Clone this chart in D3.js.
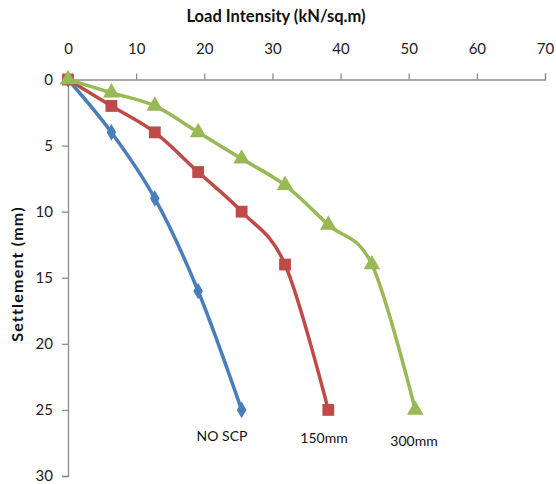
<!DOCTYPE html>
<html><head><meta charset="utf-8">
<script src="https://cdn.jsdelivr.net/npm/d3@7"></script>
<style>body{margin:0;background:#fff}svg{display:block}text{font-family:Lato,"Open Sans",sans-serif}</style>
</head><body>
<svg id="c" width="556" height="484"></svg>
<script>
const xTicks = [0,10,20,30,40,50,60,70];
const yTicks = [0,5,10,15,20,25,30];
const seriesNames = ["NO SCP","150mm","300mm"];
const loadNoScp = [0,6.37,12.74,19.1,25.48];
const settleNoScp = [0,4,9,16,25];
const load150 = [0,6.37,12.74,19.1,25.48,31.85,38.2];
const settle150 = [0,2,4,7,10,14,25];
const load300 = [0,6.37,12.74,19.1,25.48,31.85,38.2,44.6,50.96];
const settle300 = [0,1,2,4,6,8,11,14,25];

const svg = d3.select("#c");
const x = d3.scaleLinear().domain([0,70]).range([68,545]);
const y = d3.scaleLinear().domain([0,30]).range([79.5,476]);
const axisColor = "#8c8c8c";

const xa = svg.append("g").attr("transform",`translate(0,${y(0)})`)
  .call(d3.axisTop(x).tickValues(xTicks).tickSize(6).tickPadding(20));
const ya = svg.append("g").attr("transform",`translate(${x(0)},0)`)
  .call(d3.axisLeft(y).tickValues(yTicks).tickSize(6).tickPadding(9));
[xa,ya].forEach(a=>{
  a.select(".domain").attr("stroke",axisColor).attr("stroke-width",1.3);
  a.selectAll(".tick line").attr("stroke",axisColor).attr("stroke-width",1.3);
  a.selectAll(".tick text").attr("fill","#222").style("font-size","15px");
});

svg.append("text").attr("x",276).attr("y",22).attr("text-anchor","middle")
  .style("font-size","16.5px").style("font-weight","bold").attr("fill","#111")
  .text("Load Intensity (kN/sq.m)");
svg.append("text").attr("transform","translate(23,274) rotate(-90)").attr("text-anchor","middle")
  .style("font-size","16px").style("font-weight","bold").style("letter-spacing","1.2px").attr("fill","#111")
  .text("Settlement (mm)");

const series = [
  {xs:loadNoScp, ys:settleNoScp, color:"#4A7EBB", sym:d3.symbolDiamond, size:80},
  {xs:load150, ys:settle150, color:"#BE4B48", sym:d3.symbolSquare, size:140},
  {xs:load300, ys:settle300, color:"#98B954", sym:d3.symbolTriangle, size:120},
];
const line = d3.line().x(d=>x(d[0])).y(d=>y(d[1])).curve(d3.curveCatmullRom.alpha(0));
series.forEach(s=>{
  const pts = s.xs.map((v,i)=>[v,s.ys[i]]);
  svg.append("path").attr("d",line(pts)).attr("fill","none").attr("stroke",s.color).attr("stroke-width",3.5);
});
series.forEach(s=>{
  const pts = s.xs.map((v,i)=>[v,s.ys[i]]);
  svg.append("g").selectAll("path").data(pts).join("path")
    .attr("transform",d=>`translate(${x(d[0])},${y(d[1])})`)
    .attr("d",d3.symbol().type(s.sym).size(s.size)).attr("fill",s.color);
});
const labelPos = [[222,441],[324,443],[414,446]];
seriesNames.forEach((n,i)=>{
  svg.append("text").attr("x",labelPos[i][0]).attr("y",labelPos[i][1]).attr("text-anchor","middle")
    .style("font-size","14px").attr("fill","#111").text(n);
});
</script>
</body></html>
